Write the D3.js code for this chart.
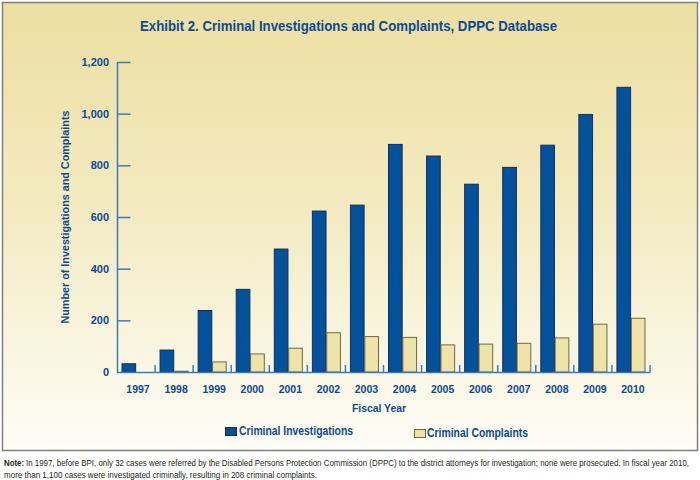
<!DOCTYPE html>
<html>
<head>
<meta charset="utf-8">
<script src="https://cdn.jsdelivr.net/npm/d3@7"></script>
<style>
  html, body { margin: 0; padding: 0; background: #ffffff; }
  svg { display: block; }
</style>
</head>
<body>
<div id="chart"></div>
<script>
const years = ['1997', '1998', '1999', '2000', '2001', '2002', '2003', '2004', '2005', '2006', '2007', '2008', '2009', '2010'];
const investigations = [32, 85, 238, 320, 476, 623, 646, 881, 836, 727, 792, 878, 997, 1102];
const complaints = [0, 3, 39, 70, 92, 152, 137, 134, 105, 108, 111, 132, 185, 208];
const seriesNames = ['Criminal Investigations', 'Criminal Complaints'];
const yTicks = [0, 200, 400, 600, 800, 1000, 1200];

const width = 700;
const height = 480;
const textBlue = '#0d4a93';
const axisBlue = '#3b7cc1';
const invFill = '#03519b';
const compFill = '#eee3a9';
const font = '"Liberation Sans", Arial, Helvetica, sans-serif';

const svg = d3.select('#chart').append('svg')
    .attr('width', width)
    .attr('height', height)
    .attr('xmlns', 'http://www.w3.org/2000/svg');

svg.append('defs')
    .append('linearGradient')
    .attr('id', 'panel-bg')
    .attr('x1', '0%').attr('y1', '0%')
    .attr('x2', '0%').attr('y2', '100%')
    .selectAll('stop')
    .data([
        { offset: '0%', color: '#ecdfa2' },
        { offset: '45%', color: '#f3eac0' },
        { offset: '100%', color: '#fefdf7' }
    ])
    .enter().append('stop')
    .attr('offset', d => d.offset)
    .attr('stop-color', d => d.color);

svg.append('rect')
    .attr('x', 2.5)
    .attr('y', 2.5)
    .attr('width', 695)
    .attr('height', 448)
    .attr('fill', 'url(#panel-bg)')
    .attr('stroke', '#808080')
    .attr('stroke-width', 1.5);

// title
svg.append('text')
    .attr('x', 140)
    .attr('y', 31)
    .attr('font-family', font)
    .attr('font-weight', 'bold')
    .attr('font-size', 14)
    .attr('fill', textBlue)
    .attr('textLength', 417)
    .attr('lengthAdjust', 'spacingAndGlyphs')
    .text('Exhibit 2. Criminal Investigations and Complaints, DPPC Database');

const x = d3.scaleBand()
    .domain(years)
    .range([117, 650]);

const xSeries = d3.scaleBand()
    .domain(seriesNames)
    .range([5, x.bandwidth() - 5])
    .paddingInner(0.05);

const y = d3.scaleLinear()
    .domain([0, 1200])
    .range([372, 62]);

// y axis
const yAxis = svg.append('g')
    .attr('transform', 'translate(117.5,0)')
    .call(d3.axisRight(y).tickValues(yTicks.filter(d => d > 0)).tickSize(13).tickFormat(''));
yAxis.select('.domain').remove();
yAxis.selectAll('line').attr('stroke', axisBlue).attr('stroke-width', 1.5);
svg.append('line')
    .attr('x1', 117.5).attr('x2', 117.5)
    .attr('y1', y(1200)).attr('y2', y(0))
    .attr('stroke', axisBlue)
    .attr('stroke-width', 1.5);

svg.append('g')
    .selectAll('text')
    .data(yTicks)
    .enter().append('text')
    .attr('x', 109)
    .attr('y', d => y(d) + 4)
    .attr('text-anchor', 'end')
    .attr('font-family', font)
    .attr('font-weight', 'bold')
    .attr('font-size', 11)
    .attr('fill', textBlue)
    .text(d => d3.format(',')(d));

svg.append('text')
    .attr('transform', `translate(69,${(y(1200) + y(0)) / 2}) rotate(-90)`)
    .attr('text-anchor', 'middle')
    .attr('font-family', font)
    .attr('font-weight', 'bold')
    .attr('font-size', 11.5)
    .attr('fill', textBlue)
    .attr('textLength', 213)
    .attr('lengthAdjust', 'spacingAndGlyphs')
    .text('Number of Investigations and Complaints');

// bars
const groups = svg.append('g')
    .selectAll('g')
    .data(years)
    .enter().append('g')
    .attr('transform', d => `translate(${x(d)},0)`);

groups.append('rect')
    .attr('x', xSeries(seriesNames[0]))
    .attr('y', (d, i) => y(investigations[i]))
    .attr('width', xSeries.bandwidth())
    .attr('height', (d, i) => y(0) - y(investigations[i]))
    .attr('fill', invFill)
    .attr('stroke', '#14305a')
    .attr('stroke-width', 1);

groups.append('rect')
    .attr('x', xSeries(seriesNames[1]))
    .attr('y', (d, i) => y(complaints[i]))
    .attr('width', xSeries.bandwidth())
    .attr('height', (d, i) => y(0) - y(complaints[i]))
    .attr('fill', compFill)
    .attr('stroke', '#6f6748')
    .attr('stroke-width', 1);

// x axis
svg.append('line')
    .attr('x1', 117).attr('x2', 650.5)
    .attr('y1', y(0) + 0.5).attr('y2', y(0) + 0.5)
    .attr('stroke', axisBlue)
    .attr('stroke-width', 1.5);

svg.append('g')
    .selectAll('line')
    .data(years)
    .enter().append('line')
    .attr('x1', d => x(d) + x.bandwidth())
    .attr('x2', d => x(d) + x.bandwidth())
    .attr('y1', y(0))
    .attr('y2', y(0) - 7)
    .attr('stroke', axisBlue)
    .attr('stroke-width', 1.5);

svg.append('g')
    .selectAll('text')
    .data(years)
    .enter().append('text')
    .attr('x', d => x(d) + x.bandwidth() / 2 + 2)
    .attr('y', 393)
    .attr('text-anchor', 'middle')
    .attr('font-family', font)
    .attr('font-weight', 'bold')
    .attr('font-size', 10.5)
    .attr('fill', textBlue)
    .text(d => d);

svg.append('text')
    .attr('x', 352)
    .attr('y', 412)
    .attr('font-family', font)
    .attr('font-weight', 'bold')
    .attr('font-size', 11.5)
    .attr('fill', textBlue)
    .attr('textLength', 54)
    .attr('lengthAdjust', 'spacingAndGlyphs')
    .text('Fiscal Year');

// legend
const legend = [
    { name: seriesNames[0], fill: invFill, stroke: '#14305a', box: [225, 427], tx: 239, ty: 435, len: 114 },
    { name: seriesNames[1], fill: compFill, stroke: '#6f6748', box: [414, 429], tx: 427, ty: 437, len: 101 }
];

const legendItems = svg.append('g')
    .selectAll('g')
    .data(legend)
    .enter().append('g');

legendItems.append('rect')
    .attr('x', d => d.box[0] + 0.5)
    .attr('y', d => d.box[1] + 0.5)
    .attr('width', 11)
    .attr('height', 8)
    .attr('fill', d => d.fill)
    .attr('stroke', d => d.stroke)
    .attr('stroke-width', 1);

legendItems.append('text')
    .attr('x', d => d.tx)
    .attr('y', d => d.ty)
    .attr('font-family', font)
    .attr('font-weight', 'bold')
    .attr('font-size', 12)
    .attr('fill', textBlue)
    .attr('textLength', d => d.len)
    .attr('lengthAdjust', 'spacingAndGlyphs')
    .text(d => d.name);

// note, drawn horizontally squeezed so the natural width fits the page
const noteScale = 0.84;
const note = [
    { text: 'Note:', x: 4, y: 466, len: 20, bold: true },
    { text: 'In 1997, before BPI, only 32 cases were referred by the Disabled Persons Protection Commission (DPPC) to the district attorneys for investigation; none were prosecuted. In fiscal year 2010,', x: 26, y: 466, len: 663, bold: false },
    { text: 'more than 1,100 cases were investigated criminally, resulting in 208 criminal complaints.', x: 4, y: 477.5, len: 313, bold: false }
];

svg.append('g')
    .selectAll('text')
    .data(note)
    .enter().append('text')
    .attr('transform', d => `translate(${d.x},${d.y}) scale(${noteScale},1)`)
    .attr('font-family', font)
    .attr('font-weight', d => d.bold ? 'bold' : 'normal')
    .attr('font-size', 8.5)
    .attr('fill', '#231f20')
    .attr('textLength', d => d.len / noteScale)
    .attr('lengthAdjust', 'spacingAndGlyphs')
    .text(d => d.text);
</script>
</body>
</html>
